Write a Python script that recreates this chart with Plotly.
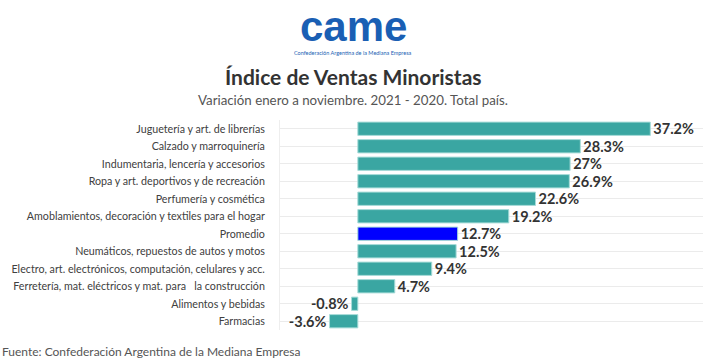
import plotly.graph_objects as go

categories = [
    "Juguetería y art. de librerías",
    "Calzado y marroquinería",
    "Indumentaria, lencería y accesorios",
    "Ropa y art. deportivos y de recreación",
    "Perfumería y cosmética",
    "Amoblamientos, decoración y textiles para el hogar",
    "Promedio",
    "Neumáticos, repuestos de autos y motos",
    "Electro, art. electrónicos, computación, celulares y acc.",
    "Ferretería, mat. eléctricos y mat. para   la construcción",
    "Alimentos y bebidas",
    "Farmacias",
]
values = [37.2, 28.3, 27, 26.9, 22.6, 19.2, 12.7, 12.5, 9.4, 4.7, -0.8, -3.6]
labels = ["37.2%", "28.3%", "27%", "26.9%", "22.6%", "19.2%", "12.7%", "12.5%", "9.4%", "4.7%", "-0.8%", "-3.6%"]

TEAL = "#3aa6a2"
BLUE = "#0000ff"
colors = [BLUE if c == "Promedio" else TEAL for c in categories]

FONT = "Lato"

fig = go.Figure(go.Bar(
    x=values, y=categories, orientation="h",
    marker=dict(color=colors, line=dict(color="#a8dcd9", width=1)),
    text=labels, textposition="outside", cliponaxis=False, constraintext="none",
    textfont=dict(family=FONT, size=14.5, color="#333333", weight="bold"),
    hoverinfo="skip",
))

W = 706; H = 360
L = 280; T = 120; R = W - 703; B = H - 330

fig.update_layout(
    width=W, height=H,
    margin=dict(l=L, r=R, t=T, b=B, autoexpand=False),
    paper_bgcolor="white", plot_bgcolor="white",
    bargap=0.24,
    showlegend=False,
    font=dict(family=FONT),
    xaxis=dict(range=[-9.9, 43.9], visible=False, zeroline=False, showgrid=False),
    yaxis=dict(
        autorange="reversed", showgrid=True, gridcolor="#ebebeb", gridwidth=1,
        tickfont=dict(family=FONT, size=10.7, color="#404040"),
        ticklabelstandoff=12, showline=True, linecolor="#eeeeee", linewidth=1,
        ticks="", automargin=False,
    ),
)

ph = H - T - B; pw = W - L - R
def py(ypix):
    return (H - B - ypix) / ph
def px(xpix):
    return (xpix - L) / pw

def ann(text, xp, yp, size, color, family=FONT, xanchor="center"):
    return dict(text=text, x=px(xp), y=py(yp), xref="paper", yref="paper", showarrow=False,
                xanchor=xanchor, yanchor="middle", font=dict(family=family, size=size, color=color))

fig.update_layout(annotations=[
    ann("<b>Índice de Ventas Minoristas</b>", 353, 76, 21, "#333333"),
    ann("Variación enero a noviembre. 2021 - 2020. Total país.", 353, 100, 13.3, "#555555"),
    ann("Fuente: Confederación Argentina de la Mediana Empresa", 0, 351, 12, "#555555", xanchor="left"),
    ann("<b>came</b>", 353, 26, 42, "#1a5fb4", family="Liberation Sans"),
    ann("Confederación Argentina de la Mediana Empresa", 353, 53, 5.5, "#1a5fb4"),
])

fig.write_html("out.html", config={"displayModeBar": False},
               post_script="document.body.style.margin='0';document.body.style.overflow='hidden';")
